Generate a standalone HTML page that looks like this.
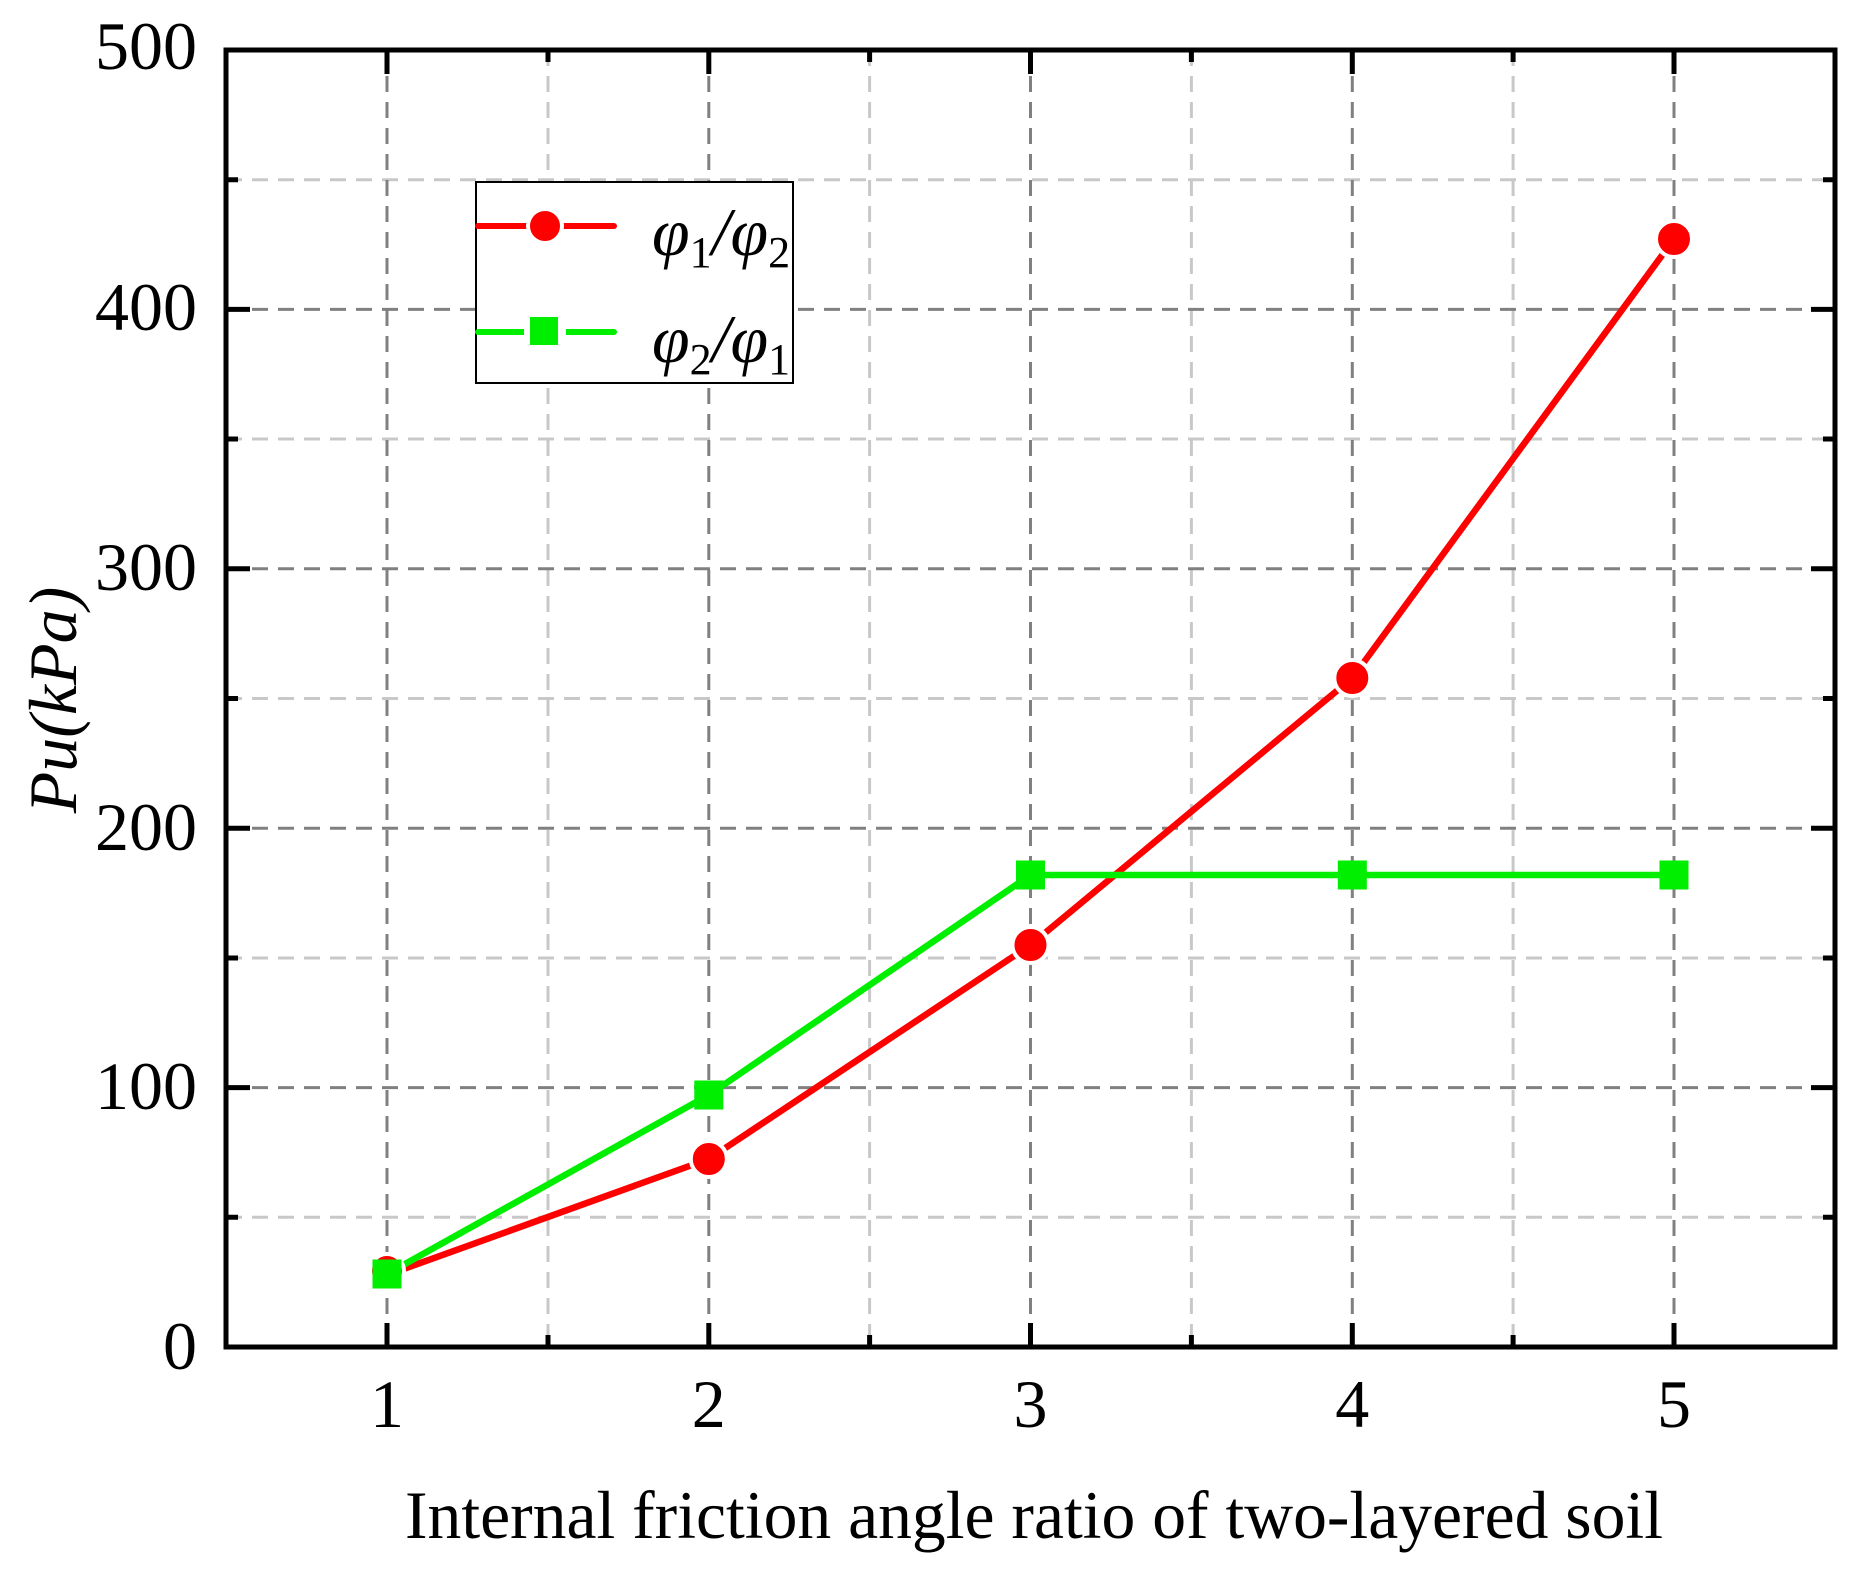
<!DOCTYPE html>
<html><head><meta charset="utf-8"><style>html,body{margin:0;padding:0;background:#fff}svg{display:block}</style></head>
<body>
<svg width="1863" height="1572" viewBox="0 0 1863 1572" xmlns="http://www.w3.org/2000/svg" font-family="'Liberation Serif',serif">
<rect width="1863" height="1572" fill="#fff"/>
<g stroke-width="3" stroke-dasharray="16 10" fill="none">
<g stroke="#c8c8c8">
<line x1="226" y1="1217.3" x2="1835" y2="1217.3"/>
<line x1="226" y1="958" x2="1835" y2="958"/>
<line x1="226" y1="698.5" x2="1835" y2="698.5"/>
<line x1="226" y1="439" x2="1835" y2="439"/>
<line x1="226" y1="179.7" x2="1835" y2="179.7"/>
<line x1="548" y1="50" x2="548" y2="1347"/>
<line x1="869.6" y1="50" x2="869.6" y2="1347"/>
<line x1="1191.4" y1="50" x2="1191.4" y2="1347"/>
<line x1="1513.1" y1="50" x2="1513.1" y2="1347"/>
</g>
<g stroke="#808080">
<line x1="226" y1="1087.6" x2="1835" y2="1087.6"/>
<line x1="226" y1="828.2" x2="1835" y2="828.2"/>
<line x1="226" y1="568.8" x2="1835" y2="568.8"/>
<line x1="226" y1="309.4" x2="1835" y2="309.4"/>
<line x1="387" y1="50" x2="387" y2="1347"/>
<line x1="708.8" y1="50" x2="708.8" y2="1347"/>
<line x1="1030.5" y1="50" x2="1030.5" y2="1347"/>
<line x1="1352.3" y1="50" x2="1352.3" y2="1347"/>
<line x1="1674" y1="50" x2="1674" y2="1347"/>
</g>
</g>
<g stroke="#000" stroke-width="5">
<path d="M226 1087.6h24M226 828.2h24M226 568.8h24M226 309.4h24M1835 1087.6h-24M1835 828.2h-24M1835 568.8h-24M1835 309.4h-24"/>
<path d="M226 1217.3h12M226 958h12M226 698.5h12M226 439h12M226 179.7h12M1835 1217.3h-12M1835 958h-12M1835 698.5h-12M1835 439h-12M1835 179.7h-12"/>
<path d="M387 1347v-24M708.8 1347v-24M1030.5 1347v-24M1352.3 1347v-24M1674 1347v-24M387 50v24M708.8 50v24M1030.5 50v24M1352.3 50v24M1674 50v24"/>
<path d="M548 1347v-12M869.6 1347v-12M1191.4 1347v-12M1513.1 1347v-12M548 50v12M869.6 50v12M1191.4 50v12M1513.1 50v12"/>
<rect x="226" y="50" width="1609" height="1297" fill="none"/>
</g>
<g font-size="68" fill="#000" text-anchor="end">
<text x="197" y="69">500</text>
<text x="197" y="330">400</text>
<text x="197" y="590">300</text>
<text x="197" y="850">200</text>
<text x="197" y="1109">100</text>
<text x="197" y="1369">0</text>
</g>
<g font-size="68" fill="#000" text-anchor="middle">
<text x="387" y="1427">1</text>
<text x="708.8" y="1427">2</text>
<text x="1030.5" y="1427">3</text>
<text x="1352.3" y="1427">4</text>
<text x="1674" y="1427">5</text>
<text x="1034" y="1538" textLength="1258" lengthAdjust="spacingAndGlyphs">Internal friction angle ratio of two-layered soil</text>
<text transform="translate(76,700) rotate(-90)" font-style="italic">Pu(kPa)</text>
</g>
<polyline points="387,1275 708.8,1159 1030.5,945 1352.3,678 1674,239" fill="none" stroke="#ff0000" stroke-width="6.5" stroke-linejoin="round"/>
<polyline points="387,1274 708.8,1095 1030.5,875 1352.3,875 1674,875" fill="none" stroke="#00ee00" stroke-width="6.5" stroke-linejoin="round"/>
<g fill="#ff0000" stroke="#fff" stroke-width="4">
<circle cx="387" cy="1271" r="17"/>
<circle cx="708.8" cy="1159" r="18"/>
<circle cx="1030.5" cy="945" r="18"/>
<circle cx="1352.3" cy="678" r="18"/>
<circle cx="1674" cy="239" r="18"/>
</g>
<g fill="#00ee00">
<rect x="372.5" y="1259.5" width="29" height="29"/>
<rect x="694.3" y="1080.5" width="29" height="29"/>
<rect x="1016" y="860.5" width="29" height="29"/>
<rect x="1337.8" y="860.5" width="29" height="29"/>
<rect x="1659.5" y="860.5" width="29" height="29"/>
</g>
<rect x="476" y="182" width="317" height="201" fill="#fff" stroke="#000" stroke-width="2"/>
<line x1="478" y1="226" x2="614" y2="226" stroke="#ff0000" stroke-width="6" stroke-linecap="round"/>
<circle cx="545" cy="226" r="17" fill="#ff0000" stroke="#fff" stroke-width="4"/>
<line x1="478" y1="332" x2="614" y2="332" stroke="#00ee00" stroke-width="6" stroke-linecap="round"/>
<rect x="524" y="315" width="42" height="34" fill="#fff"/>
<rect x="530" y="317" width="28" height="28" fill="#00ee00"/>
<g font-size="68" font-style="italic" fill="#000">
<text x="652" y="255">φ<tspan font-style="normal" font-size="44" dy="12">1</tspan><tspan dy="-12">/φ</tspan><tspan font-style="normal" font-size="44" dy="12">2</tspan></text>
<text x="652" y="362">φ<tspan font-style="normal" font-size="44" dy="12">2</tspan><tspan dy="-12">/φ</tspan><tspan font-style="normal" font-size="44" dy="12">1</tspan></text>
</g>
</svg>
</body></html>
